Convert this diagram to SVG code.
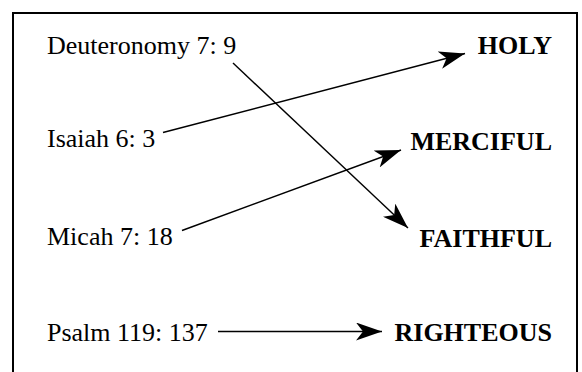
<svg xmlns="http://www.w3.org/2000/svg" width="582" height="372" viewBox="0 0 582 372">
<style>
.src{font-family:"Liberation Serif","Times New Roman",serif;font-size:26px;fill:#000}
.dst{font-family:"Liberation Serif","Times New Roman",serif;font-size:26px;font-weight:bold;fill:#000;text-anchor:end}
.c{stroke:#000;stroke-width:1.4;fill:none;marker-end:url(#ah)}
</style>
<defs>
<marker id="ah" viewBox="0 0 26 18" refX="26" refY="9" markerWidth="26" markerHeight="18" markerUnits="userSpaceOnUse" orient="auto">
<path d="M0,0 L26,9 L0,18 L7,9 Z" fill="#000"/>
</marker>
</defs>
<rect width="582" height="372" fill="#fff"/>
<path d="M13,373 V13 H577 V373" fill="none" stroke="#000" stroke-width="2"/>
<g id="n-deut"><text class="src" x="47" y="53.5">Deuteronomy 7: 9</text></g>
<g id="n-isaiah"><text class="src" x="47" y="146.5">Isaiah 6: 3</text></g>
<g id="n-micah"><text class="src" x="47" y="245">Micah 7: 18</text></g>
<g id="n-psalm"><text class="src" x="47" y="341">Psalm 119: 137</text></g>
<g id="n-holy"><text class="dst" x="552" y="53.5">HOLY</text></g>
<g id="n-merciful"><text class="dst" x="552" y="150">MERCIFUL</text></g>
<g id="n-faithful"><text class="dst" x="552" y="246.5">FAITHFUL</text></g>
<g id="n-righteous"><text class="dst" x="552" y="341">RIGHTEOUS</text></g>
<g id="connectors">
<line class="c" x1="163" y1="132.5" x2="465" y2="53.5"/>
<line class="c" x1="233" y1="63" x2="408" y2="228"/>
<line class="c" x1="182" y1="230.5" x2="401" y2="150"/>
<line class="c" x1="218" y1="331.5" x2="382" y2="331.5"/>
</g>
</svg>
